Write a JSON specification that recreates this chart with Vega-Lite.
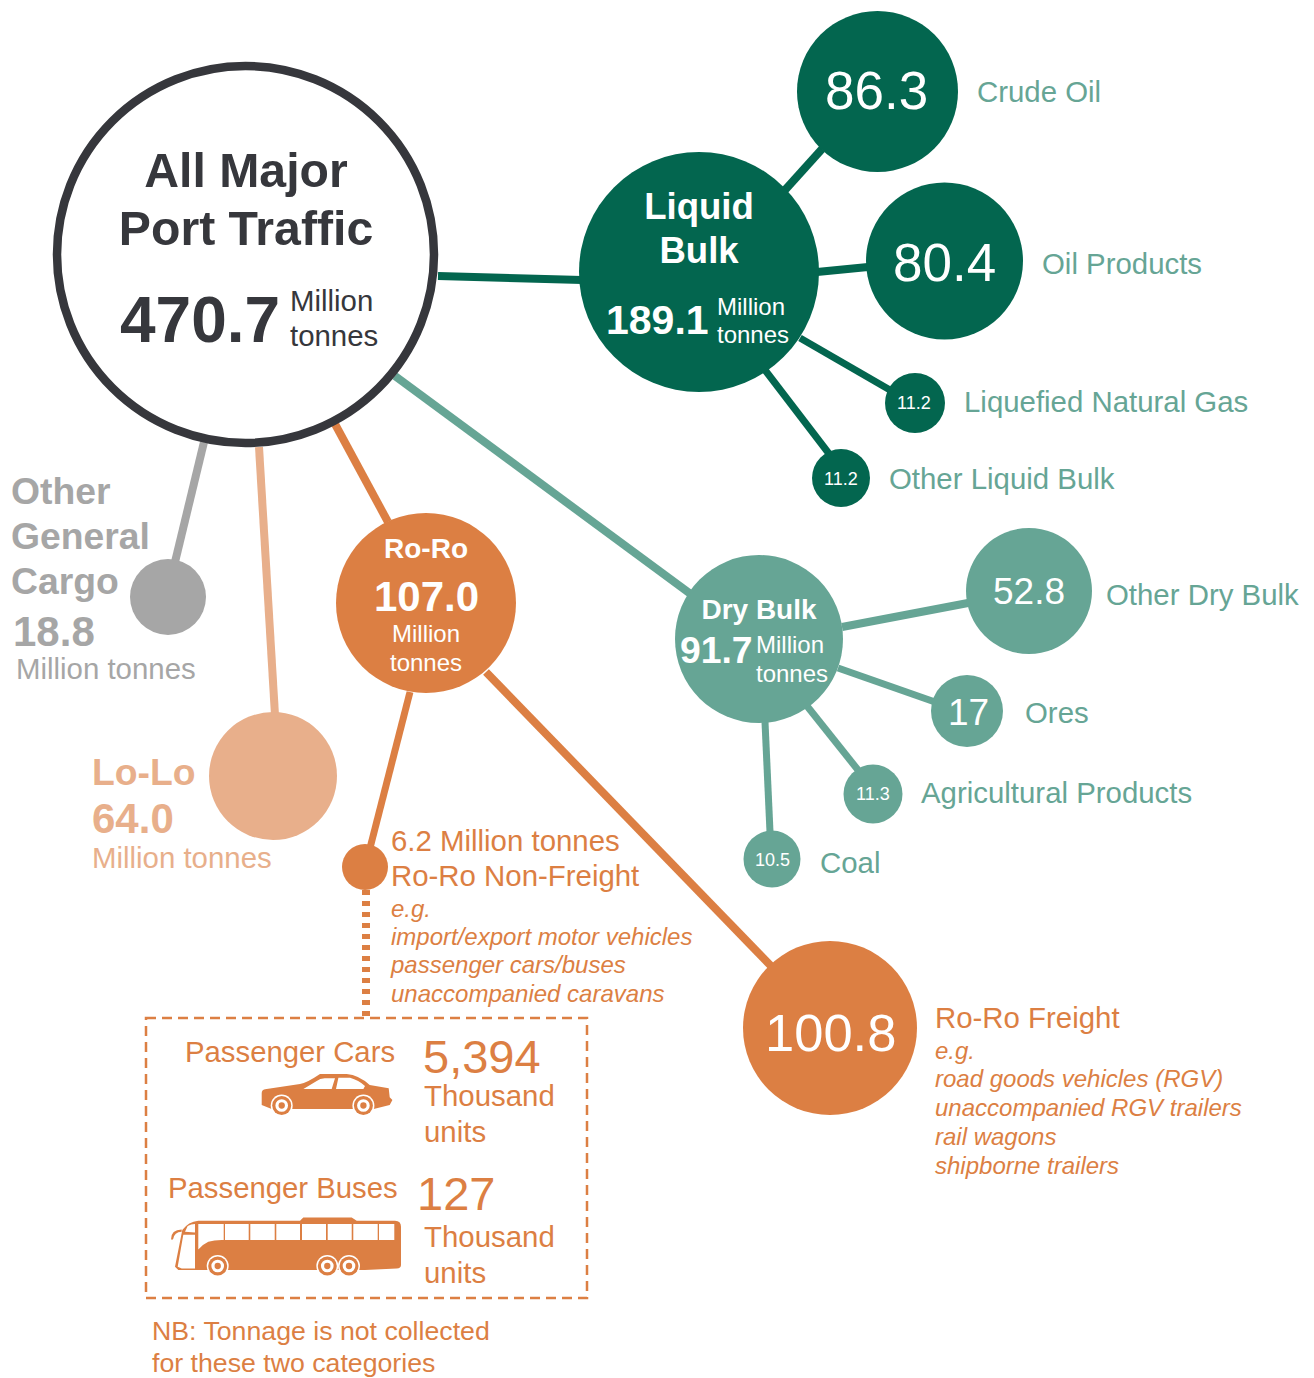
{
"$schema":"https://vega.github.io/schema/vega-lite/v6.json",
"width":1314,"height":1378,"padding":0,
"autosize":{"type":"fit","contains":"padding"},
"background":"white",
"config":{"view":{"stroke":null},"font":"Liberation Sans","text":{"font":"Liberation Sans"}},
"encoding":{
"x":{"field":"x","type":"quantitative","axis":null,"scale":{"domain":[0,1314],"nice":false,"zero":false}},
"y":{"field":"y","type":"quantitative","axis":null,"scale":{"domain":[1378,0],"nice":false,"zero":false}},
"color":{"field":"series","type":"nominal","legend":null,"scale":{"domain":["total","liquid","dry","roro","lolo","other","white"],"range":["#36373C","#03664F","#66A595","#DC7F43","#E8AF8B","#A6A6A6","#FFFFFF"]}}
},
"layer":[
{"mark":{"type":"rule","strokeWidth":8,"strokeCap":"butt"},
 "data":{"values":[
 {"x":438,"y":276,"x2":582,"y2":280,"series":"liquid"},
 {"x":785,"y":190,"x2":822,"y2":149,"series":"liquid"},
 {"x":817,"y":272,"x2":868,"y2":267,"series":"liquid"},
 {"x":395,"y":376,"x2":692,"y2":595,"series":"dry"},
 {"x":842,"y":627,"x2":968,"y2":603,"series":"dry"},
 {"x":335,"y":424,"x2":388,"y2":522,"series":"roro"},
 {"x":486,"y":672,"x2":772,"y2":967,"series":"roro"},
 {"x":204,"y":442,"x2":175,"y2":562,"series":"other"},
 {"x":259,"y":447,"x2":275,"y2":715,"series":"lolo"}]},
 "encoding":{"x2":{"field":"x2"},"y2":{"field":"y2"}}},
{"mark":{"type":"rule","strokeWidth":7,"strokeCap":"butt"},
 "data":{"values":[
 {"x":800,"y":338,"x2":890,"y2":390,"series":"liquid"},
 {"x":765,"y":370,"x2":830,"y2":455,"series":"liquid"},
 {"x":838,"y":668,"x2":935,"y2":702,"series":"dry"},
 {"x":807,"y":706,"x2":858,"y2":770,"series":"dry"},
 {"x":765,"y":722,"x2":770,"y2":832,"series":"dry"},
 {"x":410,"y":692,"x2":370,"y2":848,"series":"roro"}]},
 "encoding":{"x2":{"field":"x2"},"y2":{"field":"y2"}}},
{"mark":{"type":"rule","strokeWidth":8,"strokeDash":[5,6],"strokeCap":"butt"},
 "data":{"values":[{"x":366,"y":890,"x2":366,"y2":1019,"series":"roro"}]},
 "encoding":{"x2":{"field":"x2"},"y2":{"field":"y2"}}},
{"mark":{"type":"rect","fillOpacity":0,"stroke":"#DC7F43","strokeWidth":2.5,"strokeDash":[10,6]},
 "data":{"values":[{"x":146,"y":1018,"x2":587,"y2":1298}]},
 "encoding":{"x2":{"field":"x2"},"y2":{"field":"y2"},"color":{"value":null}}},
{"mark":{"type":"circle","fill":"#FFFFFF","stroke":"#36373C","strokeWidth":8.5,"opacity":1},
 "data":{"values":[{"x":245.5,"y":254.5,"d":377}]},
 "transform":[{"calculate":"datum.d*datum.d","as":"area"}],
 "encoding":{"size":{"field":"area","type":"quantitative","scale":null},"color":{"value":null}}},
{"mark":{"type":"circle","opacity":1},
 "data":{"values":[
 {"x":699,"y":272,"d":240,"series":"liquid"},
 {"x":877.5,"y":91.5,"d":161,"series":"liquid"},
 {"x":944.5,"y":261,"d":157,"series":"liquid"},
 {"x":915,"y":403,"d":60,"series":"liquid"},
 {"x":841,"y":478,"d":58,"series":"liquid"},
 {"x":759,"y":639,"d":168,"series":"dry"},
 {"x":1029,"y":591,"d":126,"series":"dry"},
 {"x":967,"y":711,"d":72,"series":"dry"},
 {"x":873,"y":794,"d":59,"series":"dry"},
 {"x":772,"y":859,"d":57,"series":"dry"},
 {"x":426,"y":603,"d":180,"series":"roro"},
 {"x":830,"y":1028,"d":174,"series":"roro"},
 {"x":365,"y":867,"d":46,"series":"roro"},
 {"x":168,"y":597,"d":76,"series":"other"},
 {"x":273,"y":776,"d":128,"series":"lolo"}]},
 "transform":[{"calculate":"datum.d*datum.d","as":"area"}],
 "encoding":{"size":{"field":"area","type":"quantitative","scale":null}}},
{"mark":{"type":"point","filled":true,"opacity":1,"size":4,"shape":"M-65 10L-65 -1.7Q-65 -5 -61.7 -5.7L-26.7 -11Q-20 -12 -6.7 -21L20 -21Q32 -20 43 -10L62 -6.7L63 2.3L65.7 5L63 10L47 14L-55 14Z"},
 "data":{"values":[{"x":326.7,"y":1095,"series":"roro"}]}},
{"mark":{"type":"point","filled":true,"opacity":1,"size":4,"shape":"M-23.3 -6L-10 -14Q-6.7 -16.7 -2 -16.7L8.3 -16.7L5 -6ZM9.3 -6L11.7 -17.3L23.3 -17.3Q32 -15 38.3 -9L36.7 -6Z"},
 "data":{"values":[{"x":326.7,"y":1095,"series":"white"}]}},
{"mark":{"type":"point","filled":true,"opacity":1,"size":4,"shape":"M-110 20L-102.7 -16.7Q-96.7 -25 -86.7 -26L15 -26L18.3 -29.3L66.7 -29.3L71.7 -26L110 -26Q116 -26 116 -20L116 18.3Q116 21.7 111.7 21.7L80 23.3L-106.7 23.3ZM-114 -7.3Q-114 -17.3 -103.3 -17.3L-103.3 -15Q-110.7 -15 -112 -7.3Z"},
 "data":{"values":[{"x":285,"y":1246.7,"series":"roro"}]}},
{"mark":{"type":"point","filled":true,"opacity":1,"size":4,"shape":"M-100 -15L-97.3 -20.7Q-94 -22.7 -90 -22.7L-90 -14.3ZM-101.7 -12L-90 -12L-90 21.7L-103.3 21.7L-107.3 20ZM-86.7 -22.7L-61.3 -22.7L-61.3 -6.7Q-70 -7 -76.7 -5Q-83 -2 -86.7 2.7ZM-60 -22.7L-36.3 -22.7L-36.3 -6.7L-60 -6.7ZM-34.7 -22.7L-10.3 -22.7L-10.3 -6.7L-34.7 -6.7ZM-8.7 -22.7L15 -22.7L15 -6.7L-8.7 -6.7ZM17 -22.7L41 -22.7L41 -6.7L17 -6.7ZM42.7 -22.7L66.7 -22.7L66.7 -6.7L42.7 -6.7ZM68.3 -22.7L92.7 -22.7L92.7 -6.7L68.3 -6.7ZM94 -22.7L109.3 -22.7L109.3 -6.7L94 -6.7Z"},
 "data":{"values":[{"x":285,"y":1246.7,"series":"white"}]}},
{"mark":{"type":"circle","opacity":1,"size":484},
 "data":{"values":[{"x":281.7,"y":1105.5,"series":"white"},{"x":363.4,"y":1105.5,"series":"white"},{"x":217.7,"y":1266,"series":"white"},{"x":327.3,"y":1266,"series":"white"},{"x":349,"y":1266,"series":"white"}]}},
{"mark":{"type":"circle","opacity":1,"size":361},
 "data":{"values":[{"x":281.7,"y":1105.5,"series":"roro"},{"x":363.4,"y":1105.5,"series":"roro"},{"x":217.7,"y":1266,"series":"roro"},{"x":327.3,"y":1266,"series":"roro"},{"x":349,"y":1266,"series":"roro"}]}},
{"mark":{"type":"circle","opacity":1,"size":160},
 "data":{"values":[{"x":281.7,"y":1105.5,"series":"white"},{"x":363.4,"y":1105.5,"series":"white"},{"x":217.7,"y":1266,"series":"white"},{"x":327.3,"y":1266,"series":"white"},{"x":349,"y":1266,"series":"white"}]}},
{"mark":{"type":"circle","opacity":1,"size":40},
 "data":{"values":[{"x":281.7,"y":1105.5,"series":"roro"},{"x":363.4,"y":1105.5,"series":"roro"},{"x":217.7,"y":1266,"series":"roro"},{"x":327.3,"y":1266,"series":"roro"},{"x":349,"y":1266,"series":"roro"}]}},

{"mark":{"type":"text","fontSize":48.2,"fontWeight":"bold","align":"center","baseline":"alphabetic"},
 "data":{"values":[{"x":246,"y":186.5,"label":"All Major","series":"total"},{"x":246,"y":244.5,"label":"Port Traffic","series":"total"}]},
 "encoding":{"text":{"field":"label"}}},
{"mark":{"type":"text","fontSize":64,"fontWeight":"bold","align":"left","baseline":"alphabetic"},
 "data":{"values":[{"x":120,"y":341.5,"label":"470.7","series":"total"}]},
 "encoding":{"text":{"field":"label"}}},
{"mark":{"type":"text","fontSize":29.4,"align":"left","baseline":"alphabetic"},
 "data":{"values":[
 {"x":290,"y":311,"label":"Million","series":"total"},
 {"x":290,"y":346,"label":"tonnes","series":"total"},
 {"x":977,"y":102,"label":"Crude Oil","series":"dry"},
 {"x":1042,"y":274,"label":"Oil Products","series":"dry"},
 {"x":964,"y":412,"label":"Liquefied Natural Gas","series":"dry"},
 {"x":889,"y":489,"label":"Other Liquid Bulk","series":"dry"},
 {"x":1106,"y":605,"label":"Other Dry Bulk","series":"dry"},
 {"x":1025,"y":723,"label":"Ores","series":"dry"},
 {"x":921,"y":803,"label":"Agricultural Products","series":"dry"},
 {"x":820,"y":873,"label":"Coal","series":"dry"},
 {"x":935,"y":1028,"label":"Ro-Ro Freight","series":"roro"},
 {"x":391,"y":851,"label":"6.2 Million tonnes","series":"roro"},
 {"x":391,"y":886,"label":"Ro-Ro Non-Freight","series":"roro"},
 {"x":424,"y":1106,"label":"Thousand","series":"roro"},
 {"x":424,"y":1142,"label":"units","series":"roro"},
 {"x":424,"y":1247,"label":"Thousand","series":"roro"},
 {"x":424,"y":1283,"label":"units","series":"roro"},
 {"x":16,"y":679,"label":"Million tonnes","series":"other"},
 {"x":92,"y":868,"label":"Million tonnes","series":"lolo"}]},
 "encoding":{"text":{"field":"label"}}},
{"mark":{"type":"text","fontSize":36.6,"fontWeight":"bold","align":"center","baseline":"alphabetic"},
 "data":{"values":[{"x":699,"y":219,"label":"Liquid","series":"white"},{"x":699,"y":263,"label":"Bulk","series":"white"}]},
 "encoding":{"text":{"field":"label"}}},
{"mark":{"type":"text","fontSize":41,"fontWeight":"bold","align":"left","baseline":"alphabetic"},
 "data":{"values":[{"x":606,"y":334,"label":"189.1","series":"white"}]},
 "encoding":{"text":{"field":"label"}}},
{"mark":{"type":"text","fontSize":24,"align":"left","baseline":"alphabetic"},
 "data":{"values":[
 {"x":717,"y":315,"label":"Million","series":"white"},
 {"x":717,"y":343,"label":"tonnes","series":"white"},
 {"x":756,"y":653,"label":"Million","series":"white"},
 {"x":756,"y":682,"label":"tonnes","series":"white"}]},
 "encoding":{"text":{"field":"label"}}},
{"mark":{"type":"text","fontSize":53,"align":"left","baseline":"alphabetic"},
 "data":{"values":[{"x":825,"y":109,"label":"86.3","series":"white"},{"x":893,"y":281,"label":"80.4","series":"white"}]},
 "encoding":{"text":{"field":"label"}}},
{"mark":{"type":"text","fontSize":52.5,"align":"left","baseline":"alphabetic"},
 "data":{"values":[{"x":765,"y":1051,"label":"100.8","series":"white"}]},
 "encoding":{"text":{"field":"label"}}},
{"mark":{"type":"text","fontSize":18,"align":"left","baseline":"alphabetic"},
 "data":{"values":[
 {"x":897,"y":409,"label":"11.2","series":"white"},
 {"x":824,"y":485,"label":"11.2","series":"white"},
 {"x":856,"y":800,"label":"11.3","series":"white"},
 {"x":755,"y":866,"label":"10.5","series":"white"}]},
 "encoding":{"text":{"field":"label"}}},
{"mark":{"type":"text","fontSize":28,"fontWeight":"bold","align":"center","baseline":"alphabetic"},
 "data":{"values":[{"x":759,"y":619,"label":"Dry Bulk","series":"white"},{"x":426,"y":558,"label":"Ro-Ro","series":"white"}]},
 "encoding":{"text":{"field":"label"}}},
{"mark":{"type":"text","fontSize":37.3,"fontWeight":"bold","align":"left","baseline":"alphabetic"},
 "data":{"values":[
 {"x":680,"y":663,"label":"91.7","series":"white"},
 {"x":11,"y":504,"label":"Other","series":"other"},
 {"x":11,"y":549,"label":"General","series":"other"},
 {"x":11,"y":594,"label":"Cargo","series":"other"},
 {"x":92,"y":785,"label":"Lo-Lo","series":"lolo"}]},
 "encoding":{"text":{"field":"label"}}},
{"mark":{"type":"text","fontSize":37,"align":"left","baseline":"alphabetic"},
 "data":{"values":[{"x":993,"y":604,"label":"52.8","series":"white"},{"x":948,"y":725,"label":"17","series":"white"}]},
 "encoding":{"text":{"field":"label"}}},
{"mark":{"type":"text","fontSize":42,"fontWeight":"bold","align":"left","baseline":"alphabetic"},
 "data":{"values":[
 {"x":374,"y":611,"label":"107.0","series":"white"},
 {"x":13,"y":646,"label":"18.8","series":"other"},
 {"x":92,"y":833,"label":"64.0","series":"lolo"}]},
 "encoding":{"text":{"field":"label"}}},
{"mark":{"type":"text","fontSize":24,"align":"center","baseline":"alphabetic"},
 "data":{"values":[{"x":426,"y":642,"label":"Million","series":"white"},{"x":426,"y":671,"label":"tonnes","series":"white"}]},
 "encoding":{"text":{"field":"label"}}},
{"mark":{"type":"text","fontSize":24,"fontStyle":"italic","align":"left","baseline":"alphabetic"},
 "data":{"values":[
 {"x":935,"y":1059,"label":"e.g.","series":"roro"},
 {"x":935,"y":1087,"label":"road goods vehicles (RGV)","series":"roro"},
 {"x":935,"y":1116,"label":"unaccompanied RGV trailers","series":"roro"},
 {"x":935,"y":1145,"label":"rail wagons","series":"roro"},
 {"x":935,"y":1174,"label":"shipborne trailers","series":"roro"},
 {"x":391,"y":917,"label":"e.g.","series":"roro"},
 {"x":391,"y":945,"label":"import/export motor vehicles","series":"roro"},
 {"x":391,"y":973,"label":"passenger cars/buses","series":"roro"},
 {"x":391,"y":1002,"label":"unaccompanied caravans","series":"roro"}]},
 "encoding":{"text":{"field":"label"}}},
{"mark":{"type":"text","fontSize":29.3,"align":"left","baseline":"alphabetic"},
 "data":{"values":[{"x":185,"y":1062,"label":"Passenger Cars","series":"roro"},{"x":168,"y":1198,"label":"Passenger Buses","series":"roro"}]},
 "encoding":{"text":{"field":"label"}}},
{"mark":{"type":"text","fontSize":47,"align":"left","baseline":"alphabetic"},
 "data":{"values":[{"x":423,"y":1073,"label":"5,394","series":"roro"},{"x":417,"y":1210,"label":"127","series":"roro"}]},
 "encoding":{"text":{"field":"label"}}},
{"mark":{"type":"text","fontSize":26.7,"align":"left","baseline":"alphabetic"},
 "data":{"values":[{"x":152,"y":1340,"label":"NB: Tonnage is not collected","series":"roro"},{"x":152,"y":1372,"label":"for these two categories","series":"roro"}]},
 "encoding":{"text":{"field":"label"}}}
]
}
